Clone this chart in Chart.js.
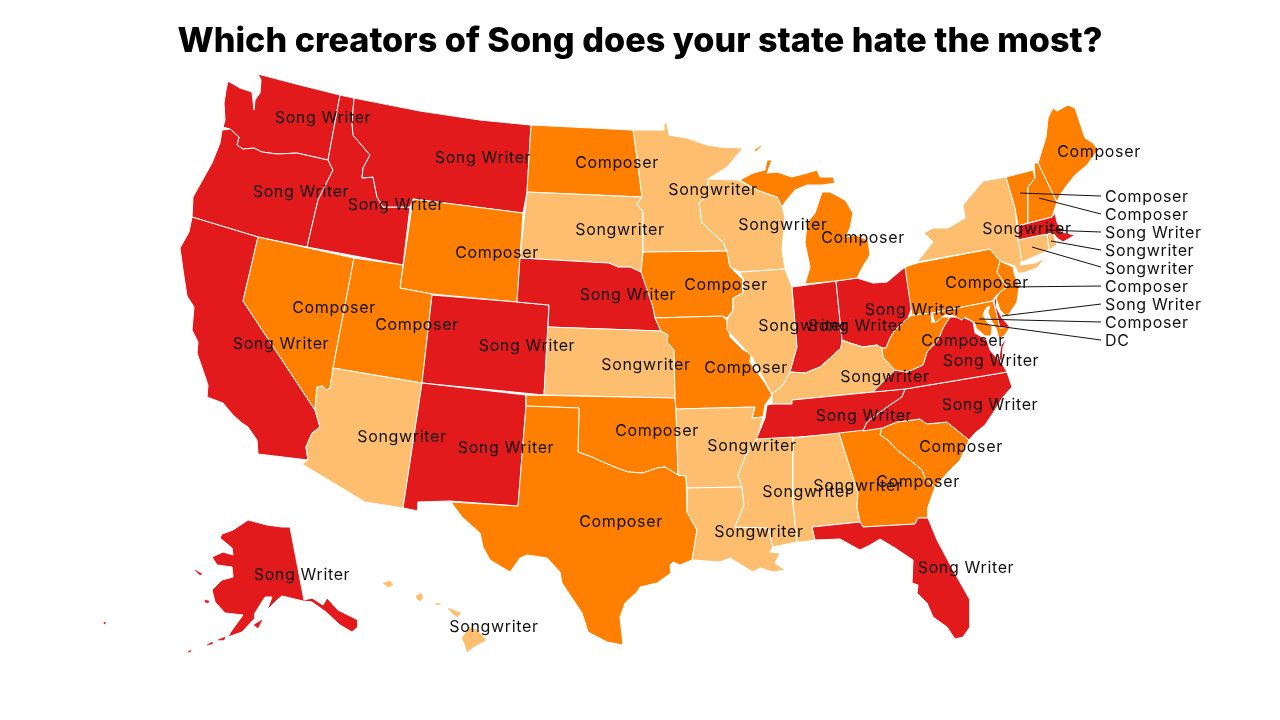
<!DOCTYPE html>
<html>
<head>
<meta charset="utf-8">
<title>Which creators of Song does your state hate the most?</title>
<script src="https://cdn.jsdelivr.net/npm/chart.js@4/dist/chart.umd.min.js"></script>
<style>
  html, body { margin: 0; background: #fff; }
  #box { width: 1280px; height: 720px; }
</style>
</head>
<body>
<div id="box"><canvas id="map"></canvas></div>
<script>
const titleText = 'Which creators of Song does your state hate the most?';

// answers
const COMP = 'Composer', SW = 'Song Writer', SONG = 'Songwriter';
const answerColors = { [COMP]: '#ff7f00', [SW]: '#e31a1c', [SONG]: '#fdbf6f' };

// state outlines, in the map's x / y units
const WA = [[258,74],[300,85],[340,95],[328,160],[297,153],[277,154],[262,152],[254,148],[243,149],[237,145],[239,137],[230,129],[223,127],[225,120],[224,103],[226,90],[228,81],[240,88],[252,92],[254,110],[255,100],[260,93],[261,80]];
const OR = [[230,129],[239,137],[237,145],[243,149],[254,148],[262,152],[277,154],[297,153],[328,160],[333,170],[318,200],[307,247],[258,237],[192,217],[193,197],[212,163],[220,143],[222,130]];
const CA = [[192,217],[258,237],[243,301],[315,410],[320,427],[312,433],[306,447],[308,460],[258,454],[257,440],[248,427],[242,423],[233,415],[223,403],[207,397],[208,385],[197,353],[198,342],[192,330],[194,307],[187,296],[183,270],[180,248],[189,232]];
const NV = [[258,237],[354,258],[333,368],[330,388],[327,390],[323,386],[317,387],[315,410],[243,301]];
const ID = [[340,95],[354,98],[352,123],[353,135],[370,155],[363,168],[362,178],[373,177],[377,197],[383,207],[410,207],[403,265],[307,247],[318,200],[333,170],[328,160]];
const MT = [[354,98],[420,111],[480,120],[531,125],[527,192],[523,213],[413,199],[410,207],[383,207],[377,197],[373,177],[362,178],[363,168],[370,155],[353,135],[352,123]];
const WY = [[413,199],[523,213],[517,302],[432,294],[400,288]];
const UT = [[354,258],[403,265],[400,288],[432,294],[422,383],[333,368]];
const CO = [[432,295],[517,302],[549,305],[544,395],[422,383]];
const AZ = [[333,368],[422,383],[403,508],[365,502],[302,464],[308,460],[306,447],[312,433],[320,427],[315,410],[317,387],[323,386],[327,390],[330,388]];
const NM = [[422,383],[526,395],[526,406],[518,506],[450,501],[418,502],[418,511],[403,508]];
const ND = [[531,125],[633,130],[637,157],[642,197],[527,192]];
const SD = [[527,192],[642,197],[637,204],[643,212],[643,252],[641,272],[630,267],[618,267],[609,263],[520,258]];
const NE = [[520,258],[609,263],[618,267],[630,267],[641,272],[648,290],[653,307],[655,318],[661,331],[548,327],[549,305],[517,302]];
const KS = [[548,327],[661,331],[668,335],[667,342],[674,350],[675,398],[544,395]];
const OK = [[526,395],[675,398],[676,409],[678,475],[665,467],[657,468],[643,473],[628,472],[617,468],[605,463],[592,457],[578,452],[579,408],[526,406]];
const TX = [[526,406],[579,408],[578,452],[592,457],[605,463],[617,468],[628,472],[643,473],[657,468],[665,467],[678,475],[686,476],[687,512],[697,530],[692,560],[680,565],[673,562],[670,565],[671,573],[657,583],[640,587],[637,592],[625,603],[620,617],[623,645],[607,642],[588,632],[582,613],[562,583],[560,572],[547,558],[527,555],[520,558],[510,572],[490,560],[483,547],[480,533],[462,517],[451,502],[518,506]];
const MN = [[633,130],[664,130],[664,123],[667,123],[669,135],[687,138],[707,145],[720,147],[743,148],[727,167],[708,179],[708,195],[699,203],[702,223],[723,242],[727,251],[643,252],[643,212],[637,204],[642,197],[637,157]];
const IA = [[643,252],[727,251],[730,267],[743,280],[743,293],[733,298],[733,310],[727,318],[722,316],[655,318],[653,307],[641,272]];
const MO = [[655,318],[722,316],[727,320],[730,337],[743,350],[751,353],[750,362],[765,383],[772,395],[765,405],[763,417],[752,418],[755,407],[676,409],[675,398],[674,350],[667,342],[668,335],[661,331]];
const AR = [[676,409],[755,407],[752,418],[763,417],[757,439],[747,453],[738,475],[742,487],[687,488],[686,476],[678,475]];
const LA = [[687,488],[742,487],[744,505],[735,527],[768,528],[773,547],[770,552],[780,553],[775,563],[785,570],[773,572],[760,568],[753,572],[730,558],[720,562],[692,560],[697,530],[687,512]];
const WI = [[708,179],[738,180],[757,190],[777,197],[782,207],[785,217],[782,250],[785,269],[740,272],[730,267],[727,251],[723,242],[702,223],[699,203],[708,195]];
const IL = [[740,272],[785,269],[792,287],[797,347],[790,372],[783,385],[772,394],[767,385],[752,357],[727,330],[727,320],[733,310],[733,298],[743,293],[745,283]];
const IN = [[792,287],[836,281],[842,340],[841,348],[830,358],[820,367],[805,373],[790,372],[797,347]];
const OH = [[836,281],[857,278],[873,283],[887,282],[905,267],[912,307],[908,318],[895,330],[890,338],[886,348],[882,348],[877,345],[863,347],[850,343],[842,340]];
const KY = [[790,372],[805,373],[820,367],[830,358],[841,348],[842,340],[850,343],[863,347],[877,345],[882,348],[883,357],[895,370],[878,387],[873,392],[792,400],[792,404],[772,404],[772,394],[783,385]];
const TN = [[767,405],[772,404],[792,404],[792,400],[873,392],[905,389],[902,397],[890,405],[883,410],[867,422],[863,431],[840,434],[756,440],[765,418]];
const MS = [[757,439],[793,437],[793,503],[797,542],[773,547],[768,528],[735,527],[744,505],[742,487],[738,475],[747,453]];
const AL = [[793,438],[839,433],[858,493],[857,507],[860,522],[812,527],[815,540],[802,542],[797,542],[793,503]];
const GA = [[839,433],[882,428],[880,435],[888,440],[897,450],[910,460],[922,470],[925,478],[935,487],[928,507],[928,518],[918,518],[915,524],[863,527],[860,522],[857,507],[858,493]];
const SC = [[882,428],[897,422],[920,419],[927,424],[947,422],[969,440],[960,460],[950,470],[935,487],[925,478],[922,470],[910,460],[897,450],[888,440],[880,435]];
const NC = [[905,389],[1007,372],[1012,387],[1003,397],[995,410],[985,425],[975,433],[969,440],[947,422],[927,424],[920,419],[897,422],[882,428],[863,431],[867,422],[883,410],[890,405],[902,397]];
const FL = [[812,527],[860,522],[863,527],[915,524],[918,518],[928,518],[937,540],[953,570],[970,600],[970,627],[963,637],[955,639],[947,627],[933,617],[927,603],[917,593],[918,585],[912,583],[913,560],[895,548],[880,539],[870,545],[860,550],[840,539],[815,540]];
const VA = [[905,389],[873,392],[878,387],[895,370],[907,372],[923,365],[927,352],[938,340],[943,328],[950,317],[963,317],[973,322],[975,333],[987,340],[990,350],[1003,365],[1007,372]];
const VA2 = [[1007,338],[1003,347],[1002,363],[999,358],[1001,345]];
const WV = [[912,315],[931,313],[932,323],[940,317],[950,317],[943,328],[938,340],[927,352],[923,365],[907,372],[895,370],[883,357],[882,348],[886,348],[890,338],[895,330],[908,318]];
const PA = [[905,267],[917,263],[990,249],[1000,261],[997,272],[1007,287],[1000,292],[994,298],[993,301],[932,313],[912,315]];
const MD = [[932,313],[993,301],[995,307],[1000,327],[1010,327],[1005,335],[999,339],[996,328],[991,320],[988,312],[990,306],[986,308],[983,315],[987,322],[992,327],[991,336],[985,336],[976,328],[975,323],[965,317],[962,320],[952,315],[945,315],[935,323]];
const DE = [[994,298],[997,300],[996,307],[1002,318],[1010,327],[1000,328],[995,307]];
const NJ = [[1000,261],[1013,267],[1014,273],[1019,287],[1017,302],[1007,317],[1000,310],[996,298],[1000,292],[1007,287],[997,272]];
const NY = [[917,262],[933,242],[924,233],[933,228],[948,228],[965,218],[963,205],[983,181],[1006,177],[1015,208],[1018,238],[1022,260],[1020,265],[1035,263],[1045,258],[1037,268],[1023,273],[1018,273],[1015,266],[1000,261],[990,249]];
const VT = [[1006,177],[1033,170],[1035,178],[1028,187],[1028,223],[1018,226],[1015,208]];
const NH = [[1034,163],[1038,163],[1057,202],[1052,217],[1028,223],[1028,187],[1035,178]];
const ME = [[1038,163],[1046,137],[1048,118],[1053,108],[1057,111],[1068,105],[1075,108],[1085,138],[1093,143],[1098,150],[1087,165],[1075,175],[1067,185],[1060,195],[1057,202]];
const MA = [[1018,226],[1052,217],[1055,213],[1057,222],[1062,232],[1075,235],[1063,242],[1057,238],[1053,233],[1018,240]];
const CT = [[1018,240],[1047,234],[1049,250],[1022,262]];
const RI = [[1047,234],[1053,233],[1057,245],[1049,250]];
const MI = [[822,192],[830,192],[845,200],[853,213],[850,228],[846,237],[856,235],[868,240],[870,255],[862,268],[857,278],[836,281],[805,284],[810,267],[805,243],[807,223],[815,213]];
const MI2 = [[740,180],[753,173],[765,170],[767,160],[772,160],[767,173],[777,172],[792,177],[807,173],[817,170],[820,177],[833,177],[835,183],[822,185],[807,185],[795,190],[785,202],[782,207],[777,197],[757,190]];
const MI3 = [[755,150],[761,146],[756,151]];
const AK = [[290,527],[304,600],[312,598],[323,605],[327,598],[338,610],[358,620],[358,627],[352,632],[340,625],[326,612],[312,602],[303,601],[282,596],[277,600],[267,610],[272,597],[265,597],[255,613],[255,618],[242,632],[228,637],[230,633],[243,615],[225,613],[215,602],[212,590],[222,580],[233,577],[232,567],[217,565],[212,557],[223,552],[233,555],[232,548],[220,538],[222,534],[233,530],[248,520],[267,525],[282,527]];
const AK2 = [[195,570],[202,574],[200,575]];
const AK3 = [[205,600],[209,601],[208,603],[205,602]];
const AK4 = [[254,625],[262,620],[258,628]];
const AK5 = [[207,645],[212,642],[212,644]];
const AK6 = [[218,640],[225,637],[224,640]];
const AK7 = [[188,652],[191,650],[190,652]];
const AK8 = [[104,622],[106,623],[104,624]];
const HI = [[470,627],[477,630],[486,640],[472,648],[467,652],[465,645],[462,638]];
const HI2 = [[448,608],[453,610],[461,613],[457,617],[452,613]];
const HI3 = [[435,604],[441,603],[438,605]];
const HI4 = [[416,596],[421,593],[423,598],[420,601],[417,599]];
const HI5 = [[383,583],[390,581],[393,585],[388,587]];

const shapes = [WA,OR,CA,NV,ID,MT,WY,UT,CO,AZ,NM,ND,SD,NE,KS,OK,TX,MN,IA,MO,AR,LA,WI,IL,IN,OH,KY,TN,MS,AL,GA,SC,NC,FL,VA,VA2,WV,PA,MD,DE,NJ,NY,VT,NH,ME,MA,CT,RI,MI,MI2,MI3,AK,AK2,AK3,AK4,AK5,AK6,AK7,AK8,HI,HI2,HI3,HI4,HI5];
const shapeAnswers = [SW,SW,SW,COMP,SW,SW,COMP,COMP,SW,SONG,SW,COMP,SONG,SW,SONG,COMP,COMP,SONG,COMP,COMP,SONG,SONG,SONG,SONG,SW,SW,SONG,SW,SONG,SONG,COMP,COMP,SW,SW,SW,SW,COMP,COMP,COMP,SW,COMP,SONG,COMP,COMP,COMP,SW,SONG,SONG,COMP,COMP,COMP,SW,SW,SW,SW,SW,SW,SW,SW,SONG,SONG,SONG,SONG,SONG];

// labels sitting on the map
const labelText = [SW,SW,SW,SW,COMP,COMP,SONG,SONG,SONG,COMP,SW,COMP,SW,COMP,COMP,SW,SONG,SW,SONG,COMP,COMP,COMP,SONG,SONG,SONG,SONG,SW,SONG,SONG,SW,SW,COMP,SW,SW,COMP,COMP,SW,COMP,SONG,COMP,SW,SONG];
const labelX = [323,301,396,483,497,617,620,713,783,863,628,726,527,334,417,281,402,506,646,657,621,746,752,759,807,858,864,885,803,856,913,963,991,990,961,918,966,987,1027,1099,302,494];
const labelY = [118,192,205,158,253,163,230,190,225,238,295,285,346,308,325,344,437,448,365,431,522,368,446,532,492,486,416,377,326,326,310,341,361,405,447,482,568,283,229,152,575,627];

// callouts for the small north-east states
const calloutText = [COMP,COMP,SW,SONG,SONG,COMP,SW,COMP,'DC'];
const calloutX = [1105,1105,1105,1105,1105,1105,1105,1105,1105];
const calloutY = [197,215,233,251,269,287,305,323,341];
const leaderFromX = [1020,1039,1047,1051,1032,1007,1002,979,975];
const leaderFromY = [193,198,230,241,247,287,316,319,323];
const leaderToX = [1101,1101,1101,1101,1101,1101,1101,1101,1101];
const leaderToY = [196,214,232,250,267,286,304,322,340];

const tinyShapes = [MI3, AK2, AK3, AK4, AK5, AK6, AK7, AK8, HI, HI2, HI3, HI4, HI5];

const stateSets = shapes.map((pts, i) => ({
  data: pts.concat([pts[0]]).map(p => ({ x: p[0], y: p[1] })),
  showLine: true,
  fill: 'shape',
  tension: 0,
  pointRadius: 0,
  backgroundColor: answerColors[shapeAnswers[i]],
  borderColor: tinyShapes.includes(pts) ? answerColors[shapeAnswers[i]] : '#ffffff',
  borderWidth: tinyShapes.includes(pts) ? 0.5 : 1
}));

const leaderSets = leaderFromX.map((x, i) => ({
  data: [{ x: x, y: leaderFromY[i] }, { x: leaderToX[i], y: leaderToY[i] }],
  showLine: true,
  fill: false,
  pointRadius: 0,
  borderColor: '#111111',
  borderWidth: 1
}));

const textPlugin = {
  id: 'mapText',
  afterDatasetsDraw(chart) {
    const { ctx, scales } = chart;
    ctx.save();
    ctx.font = '400 16px Inter';
    ctx.letterSpacing = '0.65px';
    ctx.fillStyle = '#111111';
    ctx.textBaseline = 'middle';
    ctx.textAlign = 'center';
    labelText.forEach((t, i) => {
      ctx.fillText(t, scales.x.getPixelForValue(labelX[i]), scales.y.getPixelForValue(labelY[i]));
    });
    ctx.textAlign = 'left';
    calloutText.forEach((t, i) => {
      ctx.fillText(t, scales.x.getPixelForValue(calloutX[i]), scales.y.getPixelForValue(calloutY[i]));
    });
    ctx.restore();
  }
};

new Chart(document.getElementById('map'), {
  type: 'scatter',
  // chart.js paints the first dataset last, so leaders go first and states reversed
  data: { datasets: leaderSets.concat(stateSets.reverse()) },
  plugins: [textPlugin],
  options: {
    responsive: true,
    maintainAspectRatio: false,
    animation: false,
    layout: { padding: 0 },
    plugins: {
      legend: { display: false },
      tooltip: { enabled: false },
      title: {
        display: true,
        text: titleText,
        color: '#000000',
        font: { family: 'Inter', size: 34.2, weight: 800, lineHeight: 1.2 },
        padding: { top: 21, bottom: 8 }
      }
    },
    scales: {
      // title block takes the top 70px, so y starts there
      x: { type: 'linear', min: 0, max: 1280, display: false },
      y: { type: 'linear', min: 70, max: 720, reverse: true, display: false }
    }
  }
});
</script>
</body>
</html>
